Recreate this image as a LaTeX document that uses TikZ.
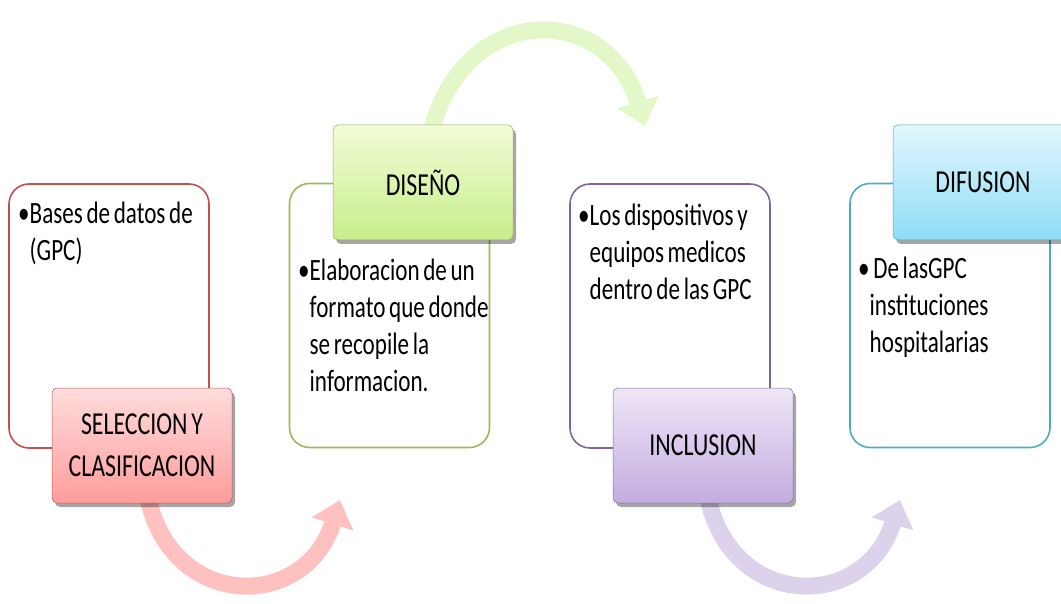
\documentclass[tikz,border=0pt]{standalone}
\usepackage{fontspec}
\setmainfont{Carlito}[FakeStretch=0.745, WordSpace=0.7]
\usetikzlibrary{shadows,arrows.meta}
\definecolor{cred}{HTML}{C0504D}
\definecolor{cgreen}{HTML}{9BBB59}
\definecolor{cpurple}{HTML}{8064A2}
\definecolor{ccyan}{HTML}{4BACC6}
\definecolor{redtop}{HTML}{FFDCDC}
\definecolor{redbot}{HTML}{FF9C9C}
\definecolor{greentop}{HTML}{F2FCD8}
\definecolor{greenbot}{HTML}{C8EE8A}
\definecolor{purptop}{HTML}{EEE6F6}
\definecolor{purpbot}{HTML}{C3ADE0}
\definecolor{cyantop}{HTML}{E2F7FD}
\definecolor{cyanbot}{HTML}{8EDDF6}
\definecolor{redarrow}{HTML}{FFC0C0}
\definecolor{greenarrow}{HTML}{E4F7C9}
\definecolor{purparrow}{HTML}{DDD2EC}
\begin{document}
\begin{tikzpicture}[x=1pt,y=-1pt,
  outbox/.style={draw=#1, line width=1.6pt, rounded corners=20pt, fill=white,
    minimum width=200pt, minimum height=264pt, inner sep=0pt},
  labelbox/.style n args={3}{draw=#1!70!gray, line width=0.5pt, rounded corners=5pt,
    top color=#2, bottom color=#3, minimum width=180pt, minimum height=115pt,
    align=center, inner sep=0pt, font=\fontsize{32}{42}\selectfont,
    drop shadow={shadow xshift=3pt, shadow yshift=-4pt, opacity=0.35, fill=black}},
  bodytext/.style={anchor=base west, inner sep=0pt, font=\fontsize{31}{37}\selectfont},
  bigarrow/.style={draw=#1, line width=17pt, -{Triangle[length=25pt, width=42pt]}}
]
\useasboundingbox (0,0) rectangle (1061,604);
\clip (0,0) rectangle (1061,604);

% outline boxes
\node[outbox=cred] (o1) at (109,316) {};
\node[outbox=cgreen] (o2) at (389.5,315.5) {};
\node[outbox=cpurple] (o3) at (670,316) {};
\node[outbox=ccyan] (o4) at (950,315.5) {};

% body texts
\node[bodytext] (t1) at (18,224) {\textbullet\begin{tabular}[t]{@{}l@{}}Bases de datos de\\(GPC)\end{tabular}};
\node[bodytext] (t2) at (298,281) {\textbullet\begin{tabular}[t]{@{}l@{}}Elaboracion de un\\formato que donde\\se recopile la\\informacion.\end{tabular}};
\node[bodytext] (t3) at (578,226) {\textbullet\begin{tabular}[t]{@{}l@{}}Los dispositivos y\\equipos medicos\\dentro de las GPC\end{tabular}};
\node[bodytext] (t4) at (858,279) {\textbullet\begin{tabular}[t]{@{}l@{}}~De lasGPC\\instituciones\\hospitalarias\end{tabular}};

% anchors for arrows
\coordinate (a1s) at (148,498);
\coordinate (a1e) at (340,500);
\coordinate (a2s) at (431,132);
\coordinate (a2e) at (645,126);
\coordinate (a3s) at (708,498);
\coordinate (a3e) at (900,500);

% curved arrows
\draw[bigarrow=redarrow] (a1s) .. controls (172,610) and (305,612) .. (a1e);
\draw[bigarrow=greenarrow] (a2s) .. controls (465,0) and (608,2) .. (a2e);
\draw[bigarrow=purparrow] (a3s) .. controls (732,610) and (865,612) .. (a3e);

% label boxes
\node[labelbox={cred}{redtop}{redbot}] (l1) at (142,445.5) {SELECCION Y\\CLASIFICACION};
\node[labelbox={cgreen}{greentop}{greenbot}] (l2) at (423,182.5) {DISEÑO};
\node[labelbox={cpurple}{purptop}{purpbot}] (l3) at (703,445.5) {INCLUSION};
\node[labelbox={ccyan}{cyantop}{cyanbot}] (l4) at (983,182.5) {DIFUSION};
\end{tikzpicture}
\end{document}
